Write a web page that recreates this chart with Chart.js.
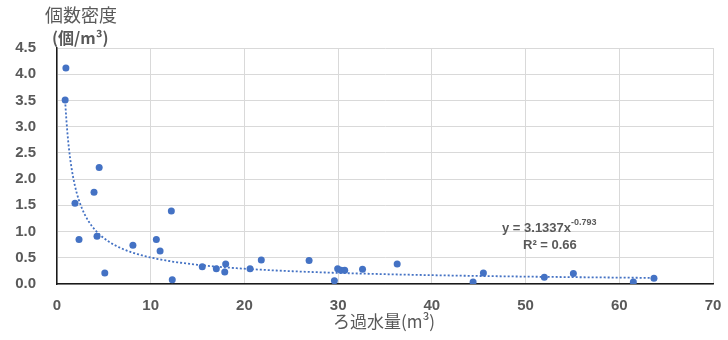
<!DOCTYPE html>
<html>
<head>
<meta charset="utf-8">
<script src="https://cdn.jsdelivr.net/npm/chart.js@4/dist/chart.umd.min.js"></script>
<style>
  html, body { margin: 0; padding: 0; background: #ffffff; }
  #wrap { width: 728px; height: 340px; position: relative; }
</style>
</head>
<body>
<div id="wrap"><canvas id="c" width="728" height="340"></canvas></div>
<script>
// ---- Data ----
const filteredVolume = [0.95, 0.87, 1.92, 2.35, 3.95, 4.5, 4.27, 5.1, 8.1, 10.6, 11.0, 12.2, 12.3,
  15.5, 17.0, 18.0, 17.9, 20.6, 21.8, 26.9, 29.6, 29.95, 30.3, 30.7, 32.6, 36.3,
  44.4, 45.5, 52.0, 55.1, 61.5, 63.7];
const density = [4.12, 3.51, 1.54, 0.85, 1.75, 2.22, 0.91, 0.21, 0.74, 0.85, 0.63, 1.39, 0.08,
  0.33, 0.29, 0.38, 0.23, 0.29, 0.46, 0.45, 0.06, 0.29, 0.26, 0.26, 0.28, 0.38,
  0.04, 0.21, 0.13, 0.20, 0.04, 0.11];
const xTicks = [0, 10, 20, 30, 40, 50, 60, 70];
const yTicks = [0, 0.5, 1.0, 1.5, 2.0, 2.5, 3.0, 3.5, 4.0, 4.5];
// Power trendline shown on the chart: y = 3.1337 x^-0.793, R^2 = 0.66
const trendCoef = 3.1337;
const trendExp = -0.793;
const trendR2 = 0.66;
const xTitle = 'ろ過水量(m³)';
const yTitleLine1 = '個数密度';
const yTitleLine2 = '(個/m³)';

// trendline evaluated over the observed range (model shown in the chart)
const xsSorted = filteredVolume.slice().sort((a, b) => a - b);
const tMin = xsSorted[0], tMax = xsSorted[xsSorted.length - 1];
const trendPts = [];
for (let i = 0; i <= 300; i++) {
  const x = tMin * Math.pow(tMax / tMin, i / 300);
  trendPts.push({ x: x, y: trendCoef * Math.pow(x, trendExp) });
}

const pts = filteredVolume.map((x, i) => ({ x: x, y: density[i] }));
const BLUE = '#4472c4';
const LABEL = '#595959';

const annotate = {
  id: 'annotate',
  afterDraw(chart) {
    const ctx = chart.ctx;
    ctx.save();
    ctx.fillStyle = LABEL;
    ctx.textBaseline = 'middle';
    // y title (horizontal, top-left)
    ctx.textAlign = 'left';
    ctx.font = '18px "Noto Sans CJK JP"';
    ctx.fillText(yTitleLine1, 45, 15);
    ctx.font = 'bold 16px "Noto Sans CJK JP"';
    ctx.fillText(yTitleLine2, 52, 38);
    // x title
    ctx.textAlign = 'center';
    ctx.font = '17px "Noto Sans CJK JP"';
    ctx.fillText(xTitle, 384, 322);
    // equation
    ctx.textAlign = 'left';
    ctx.font = 'bold 13px "Liberation Sans", Arial, sans-serif';
    const main = 'y = ' + trendCoef.toFixed(4) + 'x';
    ctx.fillText(main, 502, 228);
    const w = ctx.measureText(main).width;
    ctx.font = 'bold 9px "Liberation Sans", Arial, sans-serif';
    ctx.fillText(String(trendExp), 502 + w, 223);
    ctx.font = 'bold 13px "Liberation Sans", Arial, sans-serif';
    ctx.fillText('R² = ' + trendR2.toFixed(2), 523, 245);
    ctx.restore();
  }
};

new Chart(document.getElementById('c'), {
  type: 'scatter',
  data: {
    datasets: [
      {
        label: 'data',
        data: pts,
        backgroundColor: BLUE,
        borderColor: BLUE,
        pointRadius: 3.5,
        pointBorderWidth: 0,
        order: 1
      },
      {
        label: 'trend',
        type: 'line',
        data: trendPts,
        borderColor: BLUE,
        borderWidth: 1.8,
        borderDash: [2, 2],
        pointRadius: 0,
        fill: false,
        tension: 0,
        order: 2
      }
    ]
  },
  options: {
    responsive: false,
    animation: false,
    events: [],
    layout: { padding: { left: 0, right: 15, top: 48, bottom: 0 } },
    plugins: { legend: { display: false }, tooltip: { enabled: false } },
    scales: {
      x: {
        type: 'linear',
        min: 0, max: 70,
        afterBuildTicks(axis) { axis.ticks = xTicks.map(v => ({ value: v })); },
        afterFit(axis) { axis.height = 56; axis.paddingLeft = 0; axis.paddingRight = 0; },
        grid: { color: '#d9d9d9', lineWidth: 1, drawTicks: false },
        border: { color: '#1a1a1a', width: 1.5 },
        ticks: {
          padding: 13,
          color: LABEL,
          font: { family: '"Liberation Sans", Arial, sans-serif', size: 15, weight: 'bold' },
          callback: v => String(v)
        }
      },
      y: {
        type: 'linear',
        min: 0, max: 4.5,
        afterBuildTicks(axis) { axis.ticks = yTicks.map(v => ({ value: v })); },
        afterFit(axis) { axis.width = 57; axis.paddingTop = 0; axis.paddingBottom = 0; },
        grid: { color: '#d9d9d9', lineWidth: 1, drawTicks: false },
        border: { color: '#1a1a1a', width: 1.5 },
        ticks: {
          padding: 21,
          color: LABEL,
          font: { family: '"Liberation Sans", Arial, sans-serif', size: 15, weight: 'bold' },
          callback: v => Number(v).toFixed(1)
        }
      }
    }
  },
  plugins: [annotate]
});
</script>
</body>
</html>
